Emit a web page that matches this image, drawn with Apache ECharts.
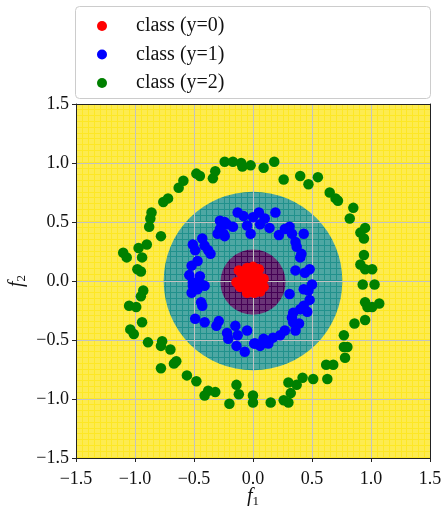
<!DOCTYPE html>
<html>
<head>
<meta charset="utf-8">
<title>Decision regions</title>
<script src="https://cdn.jsdelivr.net/npm/echarts@6/dist/echarts.min.js"></script>
<style>
  html, body { margin: 0; padding: 0; background: #fff; }
  #chart { width: 441px; height: 506px; }
</style>
</head>
<body>
<div id="chart"></div>
<script>
// Axis range and ticks (both features share the same range)
const axisMin = -1.5;
const axisMax = 1.5;
const tickStep = 0.5;

// Legend entries
const classNames = ['class (y=0)', 'class (y=1)', 'class (y=2)'];

// Decision regions of the classifier: outer class 2, ring of class 1, core of class 0
const regionClass = [2, 1, 0];
const regionCenterX = [0, 0, 0];
const regionCenterY = [0, 0, -0.01];
const regionRadius = [Infinity, 0.757, 0.276];

// Mesh step of the evaluated grid (cell seams are faintly visible)
const meshStep = 0.05;

// Samples, class 0 (inner blob)
const class0Points = [
  [-0.12, 0.09], [-0.05, 0.11], [0.00, 0.12], [0.05, 0.10], [-0.09, 0.05],
  [-0.02, 0.06], [0.04, 0.05], [0.09, 0.02], [-0.14, -0.01], [-0.07, 0.00],
  [0.00, -0.01], [0.07, -0.01], [-0.11, -0.05], [-0.04, -0.05], [0.03, -0.05],
  [0.09, -0.05], [-0.05, -0.10], [0.01, -0.10], [0.06, -0.09], [0.02, 0.08],
  [-0.03, -0.02], [0.04, 0.01]
];

// Samples, class 1 (middle ring)
const class1Points = [
  [-0.13, 0.58], [-0.08, 0.55], [-0.05, 0.47], [-0.28, 0.51], [-0.24, 0.50],
  [-0.22, 0.48], [-0.17, 0.46], [-0.30, 0.40], [-0.25, 0.40], [-0.28, 0.44],
  [-0.24, 0.38], [-0.43, 0.36], [-0.51, 0.31], [-0.41, 0.30], [-0.38, 0.26],
  [-0.36, 0.23], [-0.49, 0.26], [-0.47, 0.17], [-0.52, 0.13], [-0.54, 0.05],
  [-0.45, 0.04], [-0.51, -0.01],
  [0.05, 0.58], [0.10, 0.53], [0.19, 0.58], [0.06, 0.48], [0.14, 0.45],
  [0.00, 0.54], [-0.02, 0.40], [0.22, 0.39], [0.27, 0.44], [0.31, 0.46],
  [0.33, 0.40], [0.43, 0.40], [0.36, 0.33], [0.37, 0.29], [0.41, 0.23],
  [0.40, 0.20], [0.48, 0.10], [0.36, 0.09], [0.44, 0.07],
  [-0.52, -0.10], [-0.44, -0.03], [-0.41, -0.04], [-0.51, -0.04], [-0.47, -0.07],
  [-0.44, -0.18], [-0.43, -0.21], [-0.49, -0.32], [-0.41, -0.35], [-0.31, -0.38],
  [-0.29, -0.34], [-0.22, -0.44], [-0.21, -0.49], [-0.15, -0.38], [-0.13, -0.46],
  [-0.14, -0.55], [-0.05, -0.42], [-0.07, -0.60], [0.01, -0.53],
  [0.50, -0.03], [0.47, -0.08], [0.43, -0.07], [0.31, -0.11], [0.48, -0.16],
  [0.43, -0.21], [0.40, -0.24], [0.46, -0.26], [0.34, -0.27], [0.33, -0.31],
  [0.39, -0.36], [0.34, -0.35], [0.36, -0.42], [0.27, -0.42], [0.23, -0.46],
  [0.17, -0.48], [0.09, -0.49], [0.13, -0.53], [0.06, -0.55], [0.02, -0.53]
];

// Samples, class 2 (outer ring)
const class2Points = [
  [-0.24, 1.01], [-0.17, 1.01], [-0.10, 1.00], [-0.09, 0.97], [-0.02, 0.98],
  [-0.32, 0.93], [-0.34, 0.87], [-0.48, 0.91], [-0.45, 0.89], [-0.59, 0.85],
  [-0.63, 0.79], [-0.72, 0.70], [-0.76, 0.67], [-0.86, 0.58], [-0.87, 0.53],
  [-0.88, 0.46], [-0.78, 0.38], [-0.90, 0.31], [-0.97, 0.28], [-1.10, 0.24],
  [-1.07, 0.20], [-0.94, 0.20], [-0.98, 0.10], [-0.95, 0.08],
  [0.09, 0.96], [0.18, 1.01], [0.26, 0.86], [0.40, 0.89], [0.47, 0.82],
  [0.55, 0.88], [0.65, 0.75], [0.70, 0.70], [0.72, 0.68], [0.85, 0.62],
  [0.82, 0.53], [0.95, 0.45], [0.91, 0.41], [0.94, 0.36], [0.94, 0.22],
  [0.91, 0.14], [0.95, 0.10], [1.01, 0.10],
  [-0.93, -0.08], [-0.95, -0.13], [-1.05, -0.21], [-0.99, -0.22], [-0.94, -0.35],
  [-1.04, -0.41], [-1.01, -0.45], [-0.89, -0.52], [-0.77, -0.51], [-0.78, -0.55],
  [-0.70, -0.58], [-0.65, -0.68], [-0.67, -0.70], [-0.78, -0.74], [-0.56, -0.80],
  [-0.48, -0.85], [-0.38, -0.93], [-0.32, -0.94], [-0.41, -0.97], [-0.14, -0.88],
  [-0.12, -0.96], [-0.20, -1.04], [0.00, -0.97], [0.00, -1.03],
  [0.93, -0.03], [1.03, -0.03], [0.95, -0.18], [0.97, -0.22], [1.01, -0.22],
  [1.07, -0.19], [0.95, -0.33], [0.86, -0.36], [0.77, -0.46], [0.77, -0.56],
  [0.80, -0.56], [0.78, -0.65], [0.62, -0.71], [0.68, -0.71], [0.63, -0.83],
  [0.51, -0.83], [0.42, -0.82], [0.37, -0.88], [0.30, -0.86], [0.32, -0.95],
  [0.26, -1.01], [0.30, -1.03], [0.15, -1.03]
];

const FONT = "'Liberation Serif', 'DejaVu Serif', serif";
const TEXT = '#111';
const pointColors = ['#ff0000', '#0000ff', '#008000'];
// viridis endpoints / midpoint for the three classes
const regionColors = ['#440154', '#21918c', '#fde725'];

const fmtTick = v => (v < 0 ? '\u2212' : '') + Math.abs(v).toFixed(1);

const regionData = regionClass.map((c, i) => [regionCenterX[i], regionCenterY[i], regionRadius[i], c]);

function renderRegion(params, api) {
  const cx = api.value(0), cy = api.value(1), r = api.value(2), cls = api.value(3);
  const fill = regionColors[cls];
  if (!isFinite(r)) {
    const cs = params.coordSys;
    return { type: 'rect', shape: { x: cs.x, y: cs.y, width: cs.width, height: cs.height },
             style: { fill: fill } };
  }
  const c = api.coord([cx, cy]);
  const rp = api.size([r, 0])[0];
  return { type: 'circle', shape: { cx: c[0], cy: c[1], r: rp }, style: { fill: fill } };
}

// Light wash over the regions, leaving 1px seams between mesh cells
function renderMeshWash(params, api) {
  const n = Math.round((axisMax - axisMin) / meshStep);
  const xs = [], ys = [];
  for (let i = 0; i <= n; i++) {
    const v = axisMin + i * meshStep;
    xs.push(Math.round(api.coord([v, 0])[0]));
    ys.push(Math.round(api.coord([0, v])[1]));
  }
  const children = [];
  for (let i = 0; i < n; i++) {
    const x0 = Math.min(xs[i], xs[i + 1]), x1 = Math.max(xs[i], xs[i + 1]);
    for (let j = 0; j < n; j++) {
      const y0 = Math.min(ys[j], ys[j + 1]), y1 = Math.max(ys[j], ys[j + 1]);
      children.push({ type: 'rect', shape: { x: x0 + 1, y: y0, width: x1 - x0 - 1, height: y1 - y0 - 1 },
                      style: { fill: '#ffffff', opacity: 0.2 }, silent: true });
    }
  }
  return { type: 'group', children: children };
}

const nameRich = {
  i: { fontFamily: FONT, fontStyle: 'italic', fontSize: 20, color: TEXT },
  s: { fontFamily: FONT, fontSize: 13, color: TEXT, padding: [9, 0, 0, 0] }
};

const chart = echarts.init(document.getElementById('chart'), null, { renderer: 'canvas' });
chart.setOption({
  animation: false,
  backgroundColor: '#ffffff',
  grid: { left: 76, top: 104, width: 354, height: 354, containLabel: false, outerBoundsMode: 'none' },
  graphic: [{
    type: 'rect', z: 0,
    shape: { x: 75.5, y: 6.5, width: 355, height: 92, r: 4 },
    style: { fill: '#ffffff', stroke: '#cccccc', lineWidth: 1 }
  }],
  legend: {
    orient: 'vertical', left: 92, top: 10,
    icon: 'circle', itemWidth: 10, itemHeight: 10, itemGap: 6.5,
    textStyle: { fontFamily: FONT, fontSize: 20, color: TEXT, lineHeight: 22, padding: [0, 0, 0, 24] },
    data: classNames
  },
  xAxis: [{
    type: 'value', min: axisMin, max: axisMax, interval: tickStep, z: 1,
    name: '{i|f}{s|1}', nameLocation: 'middle', nameGap: 28, nameMoveOverlap: false,
    nameTextStyle: { rich: nameRich },
    axisLine: { show: true, onZero: false, lineStyle: { color: '#222', width: 1 } },
    axisTick: { show: true, length: 4, lineStyle: { color: '#222' } },
    axisLabel: { formatter: fmtTick, fontFamily: FONT, fontSize: 18, color: TEXT, margin: 12 },
    splitLine: { show: true, lineStyle: { color: '#c2c2c2', width: 1 } }
  }, {
    type: 'value', min: axisMin, max: axisMax, position: 'top', z: 1,
    axisLine: { show: true, onZero: false, lineStyle: { color: '#222', width: 1 } },
    axisTick: { show: false }, axisLabel: { show: false }, splitLine: { show: false }
  }],
  yAxis: [{
    type: 'value', min: axisMin, max: axisMax, interval: tickStep, z: 1,
    name: '{i|f}{s|2}', nameLocation: 'middle', nameGap: 48, nameRotate: 90, nameMoveOverlap: false,
    nameTextStyle: { rich: nameRich },
    axisLine: { show: true, onZero: false, lineStyle: { color: '#222', width: 1 } },
    axisTick: { show: true, length: 4, lineStyle: { color: '#222' } },
    axisLabel: { formatter: fmtTick, fontFamily: FONT, fontSize: 18, color: TEXT, margin: 7 },
    splitLine: { show: true, lineStyle: { color: '#c2c2c2', width: 1 } }
  }, {
    type: 'value', min: axisMin, max: axisMax, position: 'right', z: 1,
    axisLine: { show: true, onZero: false, lineStyle: { color: '#222', width: 1 } },
    axisTick: { show: false }, axisLabel: { show: false }, splitLine: { show: false }
  }],
  series: [
    { type: 'custom', name: 'regions', z: 0, silent: true, clip: true,
      renderItem: renderRegion, data: regionData },
    { type: 'custom', name: 'mesh', z: 0, silent: true, clip: true,
      renderItem: renderMeshWash, data: [[0, 0]] },
    { type: 'scatter', name: classNames[0], z: 3, symbolSize: 10.5,
      itemStyle: { color: pointColors[0], opacity: 1 }, data: class0Points },
    { type: 'scatter', name: classNames[1], z: 3, symbolSize: 10.5,
      itemStyle: { color: pointColors[1], opacity: 1 }, data: class1Points },
    { type: 'scatter', name: classNames[2], z: 3, symbolSize: 10.5,
      itemStyle: { color: pointColors[2], opacity: 1 }, data: class2Points }
  ]
});
</script>
</body>
</html>
